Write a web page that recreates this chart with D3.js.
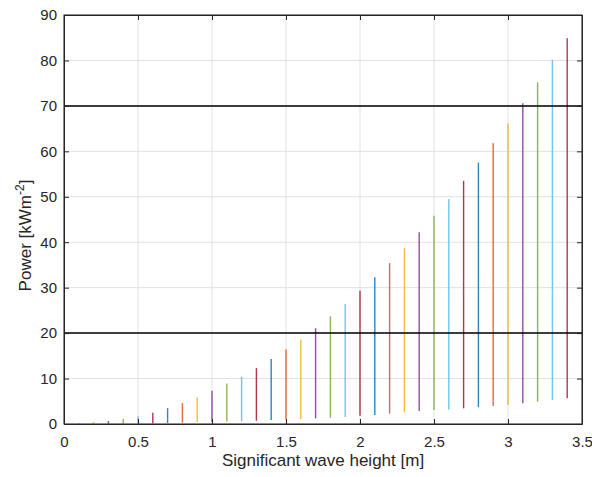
<!DOCTYPE html>
<html><head><meta charset="utf-8">
<script src="https://cdn.jsdelivr.net/npm/d3@7"></script>
<style>body{margin:0;background:#fff}svg{display:block}text{font-family:"Liberation Sans",Arial,Helvetica,sans-serif;fill:#262626}</style>
</head><body><div id="c"></div>
<script>
const waveHeights = [0,0.1,0.2,0.3,0.4,0.5,0.6,0.7,0.8,0.9,1.0,1.1,1.2,1.3,1.4,1.5,1.6,1.7,1.8,1.9,2.0,2.1,2.2,2.3,2.4,2.5,2.6,2.7,2.8,2.9,3.0,3.1,3.2,3.3,3.4];
const powerMax = [0,0.1,0.44,0.66,1.1,1.7,2.5,3.5,4.6,5.9,7.3,8.9,10.4,12.3,14.3,16.4,18.6,21.1,23.7,26.4,29.3,32.3,35.4,38.7,42.2,45.8,49.5,53.5,57.5,61.8,66.2,70.6,75.2,80.1,84.9];
const powerMin = [0,0.01,0.03,0.04,0.07,0.11,0.16,0.23,0.3,0.38,0.45,0.55,0.6,0.7,0.88,1.0,1.1,1.25,1.39,1.54,1.83,1.98,2.27,2.57,2.86,3.1,3.2,3.45,3.7,3.96,4.2,4.55,4.9,5.3,5.65];
const thresholds = [20, 70];
const xTicks = [0,0.5,1,1.5,2,2.5,3,3.5];
const xTickLabels = ["0","0.5","1","1.5","2","2.5","3","3.5"];
const yTicks = [0,10,20,30,40,50,60,70,80,90];
const colors = ["#0072BD","#D95319","#EDB120","#7E2F8E","#77AC30","#4DBEEE","#A2142F"];

const W = 592, H = 477;
const m = {left:64, right:10, top:15, bottom:53};
const svg = d3.select("#c").append("svg").attr("width",W).attr("height",H);
const x = d3.scaleLinear().domain([0,3.5]).range([m.left, W-m.right]);
const y = d3.scaleLinear().domain([0,90]).range([H-m.bottom, m.top]);

// grid
svg.append("g").selectAll("line").data(xTicks).join("line")
  .attr("x1",d=>x(d)).attr("x2",d=>x(d)).attr("y1",y(0)).attr("y2",y(90))
  .attr("stroke","#e2e2e2").attr("stroke-width",1);
svg.append("g").selectAll("line").data(yTicks).join("line")
  .attr("y1",d=>y(d)).attr("y2",d=>y(d)).attr("x1",x(0)).attr("x2",x(3.5))
  .attr("stroke","#e2e2e2").attr("stroke-width",1);

// data lines
svg.append("g").selectAll("line").data(waveHeights).join("line")
  .attr("x1",d=>x(d)).attr("x2",d=>x(d))
  .attr("y1",(d,i)=>y(powerMin[i])).attr("y2",(d,i)=>y(powerMax[i]))
  .attr("stroke",(d,i)=>colors[i%7]).attr("stroke-width",1.4).attr("stroke-opacity",0.85);

// thresholds
svg.append("g").selectAll("line").data(thresholds).join("line")
  .attr("x1",x(0)).attr("x2",x(3.5)).attr("y1",d=>y(d)).attr("y2",d=>y(d))
  .attr("stroke","#000").attr("stroke-width",1.5);

// axes
const xAx = d3.axisBottom(x).tickValues(xTicks).tickFormat((d,i)=>xTickLabels[i]).tickSizeInner(-5).tickSizeOuter(0).tickPadding(12);
const yAx = d3.axisLeft(y).tickValues(yTicks).tickSizeInner(-5).tickSizeOuter(0).tickPadding(7);
svg.append("g").attr("transform",`translate(0,${y(0)})`).call(xAx);
svg.append("g").attr("transform",`translate(${x(0)},0)`).call(yAx);
svg.append("g").attr("transform",`translate(0,${y(90)})`).call(d3.axisTop(x).tickValues(xTicks).tickFormat("").tickSizeInner(-5).tickSizeOuter(0));
svg.append("g").attr("transform",`translate(${x(3.5)},0)`).call(d3.axisRight(y).tickValues(yTicks).tickFormat("").tickSizeInner(-5).tickSizeOuter(0));
svg.selectAll(".domain").attr("stroke","#262626");
svg.selectAll(".tick line").attr("stroke","#262626");
svg.selectAll(".tick text").attr("font-size",15).style("font-family","'Liberation Sans',Arial,sans-serif").attr("fill","#262626");
svg.append("rect").attr("x",x(0)).attr("y",y(90)).attr("width",x(3.5)-x(0)).attr("height",y(0)-y(90))
  .attr("fill","none").attr("stroke","#262626").attr("stroke-width",1);

svg.append("text").attr("x",(x(0)+x(3.5))/2).attr("y",466).attr("text-anchor","middle").attr("font-size",17)
  .text("Significant wave height [m]");
const yl = svg.append("text").attr("transform",`translate(31,${(y(0)+y(90))/2 + 16}) rotate(-90)`).attr("text-anchor","middle").attr("font-size",17);
yl.append("tspan").text("Power [kWm");
yl.append("tspan").attr("dy",-7).attr("font-size",12).text("-2");
yl.append("tspan").attr("dy",7).text("]");
</script></body></html>
